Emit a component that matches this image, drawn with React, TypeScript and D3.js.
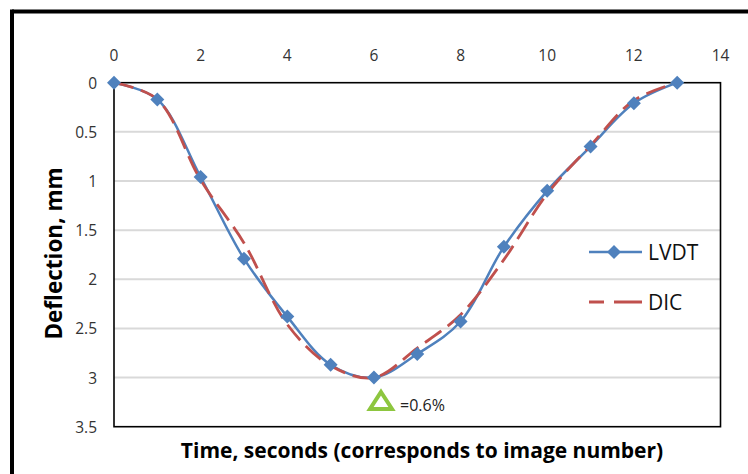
import * as d3 from "d3";

// time in seconds (= image number)
const seconds = [0, 1, 2, 3, 4, 5, 6, 7, 8, 9, 10, 11, 12, 13];
// deflection, mm
const lvdt = [0, 0.17, 0.96, 1.79, 2.38, 2.87, 3.0, 2.76, 2.43, 1.67, 1.1, 0.65, 0.21, 0];
const dic = [0, 0.17, 0.99, 1.63, 2.46, 2.88, 3.0, 2.7, 2.36, 1.8, 1.13, 0.64, 0.18, 0];

const xTicks = [0, 2, 4, 6, 8, 10, 12, 14];
const yTicks = [0, 0.5, 1, 1.5, 2, 2.5, 3, 3.5];

const W = 748;
const H = 474;
const margin = { left: 114, top: 82.7, right: 27.5, bottom: 47.3 };

const BLUE = "#4F81BD";
const RED = "#C0504D";
const GREEN = "#8DC63F";
const FONT = "'Open Sans', 'Noto Sans', sans-serif";

export default function App() {
  const x = d3.scaleLinear().domain([0, 14]).range([margin.left, W - margin.right]);
  const y = d3.scaleLinear().domain([0, 3.5]).range([margin.top, H - margin.bottom]);

  const line = d3
    .line<number>()
    .x((_, i) => x(seconds[i]))
    .y((d) => y(d))
    .curve(d3.curveCatmullRom.alpha(0.5));

  const diamond = (cx: number, cy: number, r = 7) =>
    `M${cx},${cy - r}L${cx + r},${cy}L${cx},${cy + r}L${cx - r},${cy}Z`;

  const [x0, x1] = x.range();
  const [y0, y1] = y.range();

  return (
    <svg
      width={W}
      height={H}
      style={{ position: "absolute", left: 0, top: 0, background: "#fff" }}
      fontFamily={FONT}
    >
      {/* outer frame, cut at right and bottom */}
      <line x1={12} y1={11.5} x2={W} y2={11.5} stroke="#000" strokeWidth={4} />
      <line x1={12} y1={9.5} x2={12} y2={H} stroke="#000" strokeWidth={4} />

      {/* gridlines */}
      {yTicks.slice(1, -1).map((t) => (
        <line key={t} x1={x0} x2={x1} y1={y(t)} y2={y(t)} stroke="#D9D9D9" strokeWidth={2} />
      ))}

      {/* plot area border */}
      <rect x={x0} y={y0} width={x1 - x0} height={y1 - y0} fill="none" stroke="#000" strokeWidth={1.6} />

      {/* tick labels */}
      {xTicks.map((t) => (
        <text key={t} x={x(t)} y={55} fontSize={15.5} textAnchor="middle" dominantBaseline="central" fill="#333">
          {t}
        </text>
      ))}
      {yTicks.map((t) => (
        <text key={t} x={97} y={y(t)} fontSize={15.5} textAnchor="end" dominantBaseline="central" fill="#333">
          {t}
        </text>
      ))}

      {/* series */}
      <path d={line(lvdt) ?? ""} fill="none" stroke={BLUE} strokeWidth={2.5} />
      <path d={line(dic) ?? ""} fill="none" stroke={RED} strokeWidth={2.8} strokeDasharray="20,8" />
      {lvdt.map((d, i) => (
        <path key={i} d={diamond(x(seconds[i]), y(d))} fill={BLUE} />
      ))}

      {/* annotation */}
      <path d="M381,392L392,409L370,409Z" fill="none" stroke={GREEN} strokeWidth={4} strokeLinejoin="miter" />
      <text x={400} y={405} fontSize={16} dominantBaseline="central" fill="#222">
        =0.6%
      </text>

      {/* legend */}
      <line x1={589} x2={642} y1={252} y2={252} stroke={BLUE} strokeWidth={2.5} />
      <path d={diamond(614, 252)} fill={BLUE} />
      <text x={648} y={252} fontSize={21} dominantBaseline="central" fill="#111">
        LVDT
      </text>
      <line x1={589} x2={642} y1={302} y2={302} stroke={RED} strokeWidth={2.8} strokeDasharray="15,10,28" />
      <text x={648} y={302} fontSize={21} dominantBaseline="central" fill="#111">
        DIC
      </text>

      {/* axis titles */}
      <text x={422} y={450} fontSize={21} fontWeight="bold" textAnchor="middle" dominantBaseline="central" fill="#000">
        Time, seconds (corresponds to image number)
      </text>
      <text
        transform={`translate(53,${253.5}) rotate(-90)`}
        fontSize={22.5}
        fontWeight="bold"
        textAnchor="middle"
        dominantBaseline="central"
        fill="#000"
      >
        Deflection, mm
      </text>
    </svg>
  );
}
